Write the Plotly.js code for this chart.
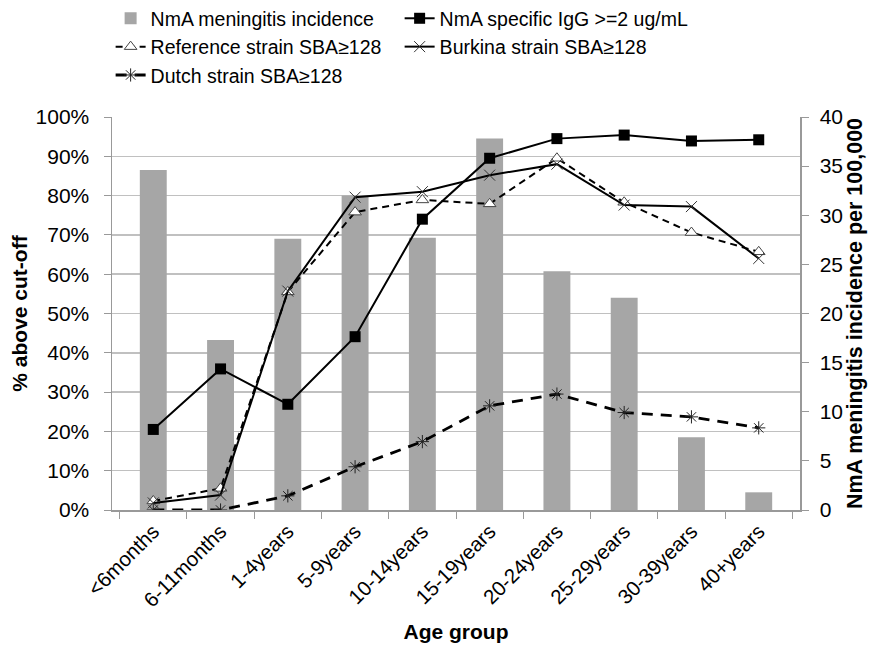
<!DOCTYPE html>
<html>
<head>
<meta charset="utf-8">
<script src="https://cdn.plot.ly/plotly-3.0.1.min.js"></script>
<style>html,body{margin:0;padding:0;background:#fff;}#chart{width:873px;height:659px;}</style>
</head>
<body>
<div id="chart"></div>
<script>
const categories = ["<6months","6-11months","1-4years","5-9years","10-14years","15-19years","20-24years","25-29years","30-39years","40+years"];
const incidence = [34.6, 17.3, 27.6, 32.0, 27.7, 37.8, 24.3, 21.6, 7.4, 1.8];
const igg = [20.5, 35.9, 26.9, 44.1, 74.0, 89.5, 94.5, 95.4, 93.9, 94.2];
const refStrain = [2.3, 5.5, 55.5, 75.8, 78.9, 77.9, 89.5, 78.3, 70.6, 65.7];
const burkina = [1.8, 3.8, 55.7, 79.6, 81.0, 85.2, 88.0, 77.6, 77.2, 64.0];
const dutch = [0, 0, 3.6, 11.0, 17.4, 26.5, 29.5, 24.8, 23.7, 20.9];
const pctTicks = [0,10,20,30,40,50,60,70,80,90,100];
const pctLabels = ["0%","10%","20%","30%","40%","50%","60%","70%","80%","90%","100%"];
const incTicks = [0,5,10,15,20,25,30,35,40];

const FONT = "Liberation Sans, Arial, sans-serif";
const traces = [
  {type:'bar', name:'NmA meningitis incidence', x:categories, y:incidence, yaxis:'y',
   marker:{color:'#a6a6a6'}},
  {type:'scatter', mode:'lines+markers', name:'NmA specific IgG >=2 ug/mL', x:categories, y:igg, yaxis:'y2',
   line:{color:'#000', width:2}, marker:{symbol:'square', size:11, color:'#000'}},
  {type:'scatter', mode:'lines+markers', name:'Reference strain SBA≥128', x:categories, y:refStrain, yaxis:'y2',
   line:{color:'#000', width:2, dash:'7px,5px'}, marker:{symbol:'triangle-up', size:11, color:'#fff', line:{color:'#444', width:1}}},
  {type:'scatter', mode:'lines+markers', name:'Burkina strain SBA≥128', x:categories, y:burkina, yaxis:'y2',
   line:{color:'#000', width:2}, marker:{symbol:'x-thin-open', size:11, color:'#333', line:{color:'#333', width:1}}},
  {type:'scatter', mode:'lines+markers', name:'Dutch strain SBA≥128', x:categories, y:dutch, yaxis:'y2',
   line:{color:'#000', width:2.8, dash:'11px,8px'}, marker:{symbol:'asterisk-open', size:11, color:'#222', line:{color:'#222', width:1}}}
];

const layout = {
  width:873, height:659,
  margin:{l:112, r:73, t:117, b:149, autoexpand:false},
  paper_bgcolor:'#fff', plot_bgcolor:'#fff',
  font:{family:FONT, size:20, color:'#000'},
  bargap:0.6,
  showlegend:true,
  legend:{orientation:'h', x:-0.002, xanchor:'left', y:1.30, yanchor:'top',
          entrywidth:244, entrywidthmode:'pixels', font:{family:FONT, size:19.5, color:'#000'},
          traceorder:'normal', itemwidth:30, tracegroupgap:0},
  xaxis:{type:'category', tickson:'boundaries', ticks:'outside', ticklen:7, tickcolor:'#999',
         showline:true, linecolor:'#999', linewidth:1.5, tickangle:-45, automargin:false,
         tickfont:{family:FONT, size:20.5, color:'#000'},
         title:{text:'<b>Age group</b>', font:{family:FONT, size:21, color:'#000'}, standoff:14}},
  yaxis:{side:'right', range:[0,40], tickvals:incTicks, ticks:'outside', ticklen:7, tickcolor:'#999',
         showgrid:false, showline:true, linecolor:'#999', linewidth:1.5, zeroline:false, automargin:false,
         ticklabelstandoff:7,
         tickfont:{family:FONT, size:21, color:'#000'},
         title:{text:'<b>NmA meningitis incidence per 100,000</b>', font:{family:FONT, size:21.5, color:'#000'}, standoff:1}},
  yaxis2:{overlaying:'y', side:'left', range:[0,100], tickmode:'array', tickvals:pctTicks, ticktext:pctLabels,
          ticks:'outside', ticklen:7, tickcolor:'#999', ticklabelstandoff:10, automargin:false,
          showgrid:true, gridcolor:'#c0c0c0', gridwidth:1.5, showline:true, linecolor:'#999', linewidth:1.5,
          zeroline:false, tickfont:{family:FONT, size:21, color:'#000'},
          title:{text:'<b>% above cut-off</b>', font:{family:FONT, size:21, color:'#000'}, standoff:2}}
};

Plotly.newPlot('chart', traces, layout, {displayModeBar:false, staticPlot:true});
</script>
</body>
</html>
